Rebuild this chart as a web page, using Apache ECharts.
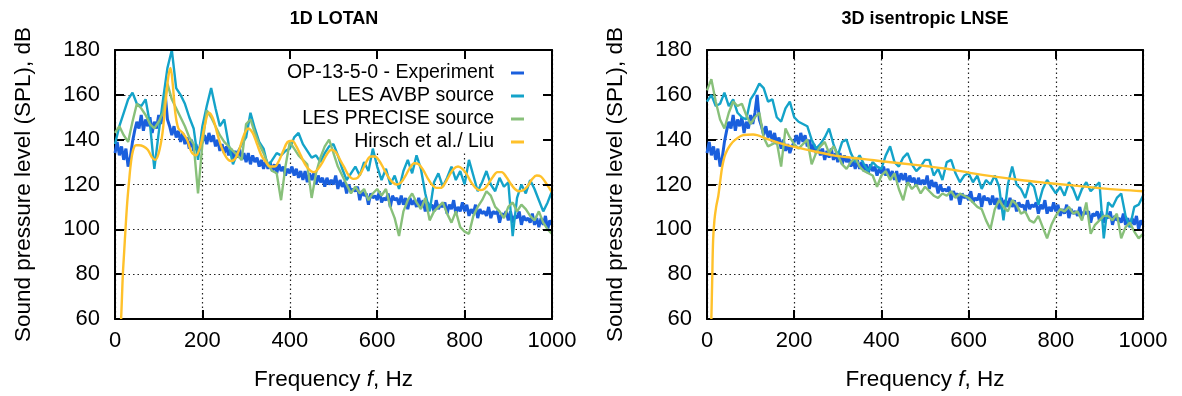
<!DOCTYPE html>
<html><head><meta charset="utf-8">
<script src="https://cdn.jsdelivr.net/npm/echarts@6/dist/echarts.min.js"></script>
<style>html,body{margin:0;padding:0;background:#fff}#c{width:1182px;height:396px}</style>
</head><body><div id="c"></div>
<script>
// ---------------- DATA ----------------
const PANEL_TITLES = ['1D LOTAN', '3D isentropic LNSE'];
const SERIES_NAMES = ['OP-13-5-0 - Experiment', 'LES AVBP source', 'LES PRECISE source', 'Hirsch et al./ Liu'];
const Y_LABEL = 'Sound pressure level (SPL), dB';

// Experiment (same in both panels), sampled every 5 Hz from 0 Hz
const EXP_STEP = 5;
const EXPERIMENT = [
 134,139,133,137,131,136,128,132,139,144,
 148,145,151,144,149,146,150,143,148,145,
 151,147,152,160,149,146,142,146,141,144,
 139,143,138,141,136,140,135,138,134,137,
 139,142,138,143,139,142,137,140,135,138,
 134,137,133,136,131,135,132,136,131,134,
 130,134,129,133,130,132,128,131,127,131,
 127,130,126,129,125,129,126,128,124,127,
 125,128,124,127,123,126,122,126,121,125,
 122,125,120,124,121,123,119,123,120,122,
 120,124,118,122,119,121,116,120,117,118,
 117,119,113,117,115,116,111,116,114,115,
 113,117,112,114,113,116,110,115,113,114,
 111,115,111,114,109,114,111,113,110,114,
 110,113,108,112,110,111,108,113,109,111,
 110,112,107,111,109,113,107,110,108,112,
 108,111,106,109,107,111,105,109,107,108,
 106,110,105,108,107,108,103,107,106,108,
 104,108,103,106,105,108,102,106,104,105,
 103,107,102,105,101,105,102,106,100,104,
 102
];

// LES spectra, sampled every 10 Hz from 0 Hz
const LES_STEP = 10;
const AVBP_1D = [
 138,146,152,158,161,156,155,158,147,127,
 143,158,172,180,163,160,156,150,145,131,
 146,155,163,154,146,149,138,129,134,138,
 141,152,145,139,136,128,131,134,133,135,
 136,141,143,138,135,132,133,130,134,137,
 138,133,127,122,125,128,124,130,126,136,
 128,122,127,120,124,118,126,131,125,133,
 127,116,108,121,125,119,123,128,122,126,
 120,131,124,117,121,126,120,117,123,119,
 121,97,114,120,116,122,118,113,108,112,
 117
];
const PRECISE_1D = [
 143,146,142,139,148,156,154,151,147,145,
 148,152,165,158,154,150,146,141,138,116,
 138,153,150,146,142,139,137,135,133,131,
 147,149,143,138,134,129,126,125,113,128,
 139,136,133,131,129,114,125,132,137,140,
 134,128,124,120,116,119,116,118,113,116,
 118,115,118,110,105,97,108,113,116,112,
 109,114,104,108,110,112,107,103,108,101,
 99,98,106,110,113,117,115,110,108,105,
 110,112,108,111,109,106,104,108,103,100,
 98
];
const AVBP_3D = [
 157,160,155,156,161,155,158,152,150,149,
 158,161,165,163,157,158,150,148,154,157,
 150,148,147,146,140,136,138,141,145,138,
 133,139,140,134,130,133,129,126,130,128,
 127,133,137,130,128,132,134,129,126,128,
 131,131,124,127,122,130,131,125,121,124,
 125,121,124,118,122,120,124,119,104,120,
 128,120,118,114,121,119,111,118,122,119,
 116,119,115,121,118,113,118,121,117,119,
 121,96,112,110,114,116,106,101,110,111,
 115
];
const PRECISE_3D = [
 162,167,157,149,145,152,157,155,156,151,
 147,150,152,141,137,138,139,128,145,141,
 138,136,138,140,129,134,137,139,134,137,
 133,129,127,130,132,128,126,125,124,119,
 124,126,122,125,118,113,121,118,120,116,
 119,117,115,114,116,115,117,114,116,115,
 114,112,110,109,104,100,109,113,110,108,
 113,111,107,108,104,103,106,101,96,102,
 106,109,108,110,107,108,104,112,98,102,
 104,106,106,104,107,96,101,103,99,96,
 98
];

// Analytical model curves (frequency, level)
const HIRSCH_1D_F = [14,16,18,21,24,28,32,36,41,48,55,65,75,85,92,100,108,115,122,127,132,138,145,155,165,175,185,195,205,215,225,235,245,255,265,275,285,295,305,315,325,335,345,355,365,375,385,395,405,415,425,435,445,455,465,475,485,495,505,515,525,535,545,555,565,575,585,595,605,615,625,635,645,655,665,675,685,695,705,715,725,735,745,755,765,775,785,795,805,815,825,835,845,855,865,875,885,895,905,915,925,935,945,955,965,975,985,995,1000];
const HIRSCH_1D = [60,70,80,90,100,112,121,129,135,137.5,137.5,137,135.5,132,131,134,142,155,168,172,165,152,145,143,140,134.5,133,137,146,152,149,142,136,132,130.5,131.5,136,142,145,143,138,133,130,128,128,130.5,135,139,139.5,137,133,129,126.5,125.5,127,130,133.5,135.5,134.5,131,127.5,124,122.5,123,126,130,132.5,132.5,130.5,127,123.5,121,120,121,124,127.5,129.5,129,126.5,123,120,118.5,118.5,120.5,124,127,128,127,124.5,121,118.5,117.5,118,120.5,123.5,125.5,125.5,123.5,120.5,118,117,117.5,119.5,122.5,124,123.5,121,118,116.5];
const HIRSCH_3D_F = [10,12,14,17,21,26,30,35,42,53,65,83,106,137,175,213,250,290,330,366,400,443,512,550,603,660,718,775,833,900,950,1000];
const HIRSCH_3D = [60,78,95,104,110,115,121,128,133.5,137.5,140,142,142.3,140.4,138,136.2,134.6,133,132,131.2,130.4,129.5,128,127,125.2,123.5,122,120.8,119.7,118.4,117.6,117];

const X_MIN = 0, X_MAX = 1000, X_INTERVAL = 200;
const Y_MIN = 60, Y_MAX = 180, Y_INTERVAL = 20;

// ---------------- BUILD ----------------
const FONT = '"Liberation Sans", Arial, Helvetica, sans-serif';
const COLORS = ['#1a5fdd', '#14a3c9', '#88c07a', '#ffc12a'];

function gridPairs(values, step) { return values.map((v, i) => [i * step, v]); }
function zipPairs(fs, vs) { return fs.map((f, i) => [f, vs[i]]); }

const gridsPx = [{left:115, top:50, width:437, height:273}, {left:707, top:50, width:436, height:273}];

const borderLine = {show:true, onZero:false, lineStyle:{color:'#000', width:2}};
const tick = {show:true, inside:true, length:9, lineStyle:{color:'#000', width:2}};
const splitL = {show:true, lineStyle:{color:'#222', type:[1.5,3], width:1.2}};
const plain = v => String(v);

const xAxis = [], yAxis = [];
gridsPx.forEach((g, gi) => {
  xAxis.push({type:'value', gridIndex:gi, min:X_MIN, max:X_MAX, interval:X_INTERVAL, position:'bottom',
    axisLine:borderLine, axisTick:tick, splitLine:splitL,
    axisLabel:{color:'#000', fontSize:22, fontFamily:FONT, margin:11, formatter:plain},
    name:'{r|Frequency }{i|f}{r|, Hz}', nameLocation:'middle', nameGap:49,
    nameTextStyle:{rich:{r:{fontSize:22.5, fontFamily:FONT, color:'#000'}, i:{fontSize:22.5, fontFamily:FONT, fontStyle:'italic', color:'#000'}}}
  });
  xAxis.push({type:'value', gridIndex:gi, min:X_MIN, max:X_MAX, interval:X_INTERVAL, position:'top', z:3,
    axisLine:borderLine, axisTick:tick, splitLine:{show:false}, axisLabel:{show:false}});
  yAxis.push({type:'value', gridIndex:gi, min:Y_MIN, max:Y_MAX, interval:Y_INTERVAL, position:'left',
    axisLine:borderLine, axisTick:tick, splitLine:splitL,
    axisLabel:{color:'#000', fontSize:22, fontFamily:FONT, margin:15, formatter:plain},
    name:Y_LABEL, nameLocation:'middle', nameGap:80,
    nameTextStyle:{fontSize:22.5, fontFamily:FONT, color:'#000'}
  });
  yAxis.push({type:'value', gridIndex:gi, min:Y_MIN, max:Y_MAX, interval:Y_INTERVAL, position:'right', z:3,
    axisLine:borderLine, axisTick:tick, splitLine:{show:false}, axisLabel:{show:false}});
});

function line(name, ci, data, gi) {
  return {type:'line', name, data, xAxisIndex:gi*2, yAxisIndex:gi*2, showSymbol:false, symbol:'none',
    color:COLORS[ci], lineStyle:{color:COLORS[ci], width:ci===0?3:2.4}, clip:true, animation:false,
    smooth: ci===3 ? 0.35 : false, z:2};
}

const series = [
  line(SERIES_NAMES[0], 0, gridPairs(EXPERIMENT, EXP_STEP), 0),
  line(SERIES_NAMES[1], 1, gridPairs(AVBP_1D, LES_STEP), 0),
  line(SERIES_NAMES[2], 2, gridPairs(PRECISE_1D, LES_STEP), 0),
  line(SERIES_NAMES[3], 3, zipPairs(HIRSCH_1D_F, HIRSCH_1D), 0),
  line(SERIES_NAMES[0], 0, gridPairs(EXPERIMENT, EXP_STEP), 1),
  line(SERIES_NAMES[1], 1, gridPairs(AVBP_3D, LES_STEP), 1),
  line(SERIES_NAMES[2], 2, gridPairs(PRECISE_3D, LES_STEP), 1),
  line(SERIES_NAMES[3], 3, zipPairs(HIRSCH_3D_F, HIRSCH_3D), 1)
];

const legend = SERIES_NAMES.map((n, i) => ({
  data:[n], orient:'horizontal', align:'right', right:658, top:62 + 23*i, padding:0,
  icon:'rect', itemWidth:13, itemHeight:3, selectedMode:false,
  textStyle:{fontSize:19.5, fontFamily:FONT, color:'#000', lineHeight:22, padding:[0,12,0,0]}
}));

const title = PANEL_TITLES.map((t, i) => ({
  text:t, left: i===0 ? 334 : 925, top:10, textAlign:'center', padding:0,
  textStyle:{fontSize:18, fontWeight:'bold', fontFamily:FONT, color:'#000'}
}));

const chart = echarts.init(document.getElementById('c'), null, {renderer:'canvas'});
chart.setOption({
  backgroundColor:'#fff', animation:false,
  title, legend, grid: gridsPx, xAxis, yAxis, series,
  graphic:[{type:'rect', shape:{x:191, y:51, width:360, height:102}, style:{fill:'#fff'}, z:1, silent:true}]
});
</script></body></html>
